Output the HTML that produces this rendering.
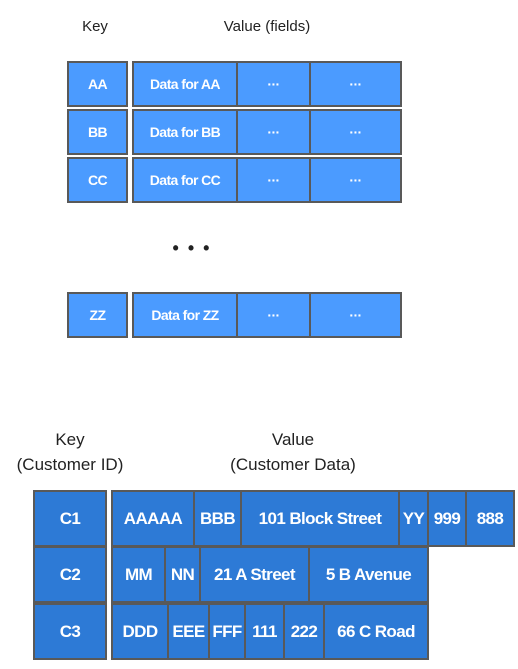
<!DOCTYPE html>
<html><head><meta charset="utf-8"><style>
body{margin:0;width:518px;height:669px;background:#fff;position:relative;overflow:hidden;font-family:"Liberation Sans",sans-serif}
.c{position:absolute;box-sizing:border-box;border:2px solid #595959;color:#fff;font-weight:bold;display:flex;align-items:center;justify-content:center;white-space:nowrap;letter-spacing:-0.6px}
.t{background:#4b9bff;font-size:14px}
.b{background:#2d7ad6;font-size:17px}
.l{position:absolute;color:#222;text-align:center;white-space:nowrap}
</style></head><body>
<div class="l" style="left:55px;top:18px;width:80px;font-size:15px">Key</div>
<div class="l" style="left:187px;top:18px;width:160px;font-size:15px">Value (fields)</div>
<div class="l" style="left:152px;top:238px;width:80px;font-size:18px;font-weight:bold;letter-spacing:2px">• • •</div>
<div class="l" style="left:0px;top:427px;width:140px;font-size:17px;line-height:25px">Key<br>(Customer ID)</div>
<div class="l" style="left:200px;top:427px;width:186px;font-size:17px;line-height:25px">Value<br>(Customer Data)</div>
<script>
const topKeys=["AA","BB","CC","ZZ"];
const topRowY=[61,109,157,292];
const botRows=[
 {k:"C1",cells:[["AAAAA",111,193],["BBB",193,240],["101 Block Street",240,398],["YY",398,427],["999",427,465],["888",465,513]]},
 {k:"C2",cells:[["MM",111,164],["NN",164,199],["21 A Street",199,308],["5 B Avenue",308,427]]},
 {k:"C3",cells:[["DDD",111,167],["EEE",167,208],["FFF",208,244],["111",244,283],["222",283,323],["66 C Road",323,427]]}
];
const botRowY=[490,546,603];
function box(cls,x,y,w,h,txt,name){
 const d=document.createElement('div');d.className='c '+cls;
 d.style.cssText=`left:${x}px;top:${y}px;width:${w}px;height:${h}px`;d.textContent=txt;
 
 
 document.body.appendChild(d);
}
topKeys.forEach((k,i)=>{const y=topRowY[i];
 box('t',67,y,61,46,k,'key-'+k.toLowerCase());
 box('t',132,y,106,46,'Data for '+k,'value-'+k.toLowerCase()+'-field1');
 box('t',236,y,75,46,'···','value-'+k.toLowerCase()+'-field2');
 box('t',309,y,93,46,'···','value-'+k.toLowerCase()+'-field3');
});
botRows.forEach((r,i)=>{const y=botRowY[i];
 box('b',33,y,74,57,r.k,'customer-key-'+r.k.toLowerCase());
 r.cells.forEach((c,j)=>box('b',c[1],y,c[2]-c[1]+2,57,c[0],'customer-'+r.k.toLowerCase()+'-field'+(j+1)));
});
</script>
</body></html>
